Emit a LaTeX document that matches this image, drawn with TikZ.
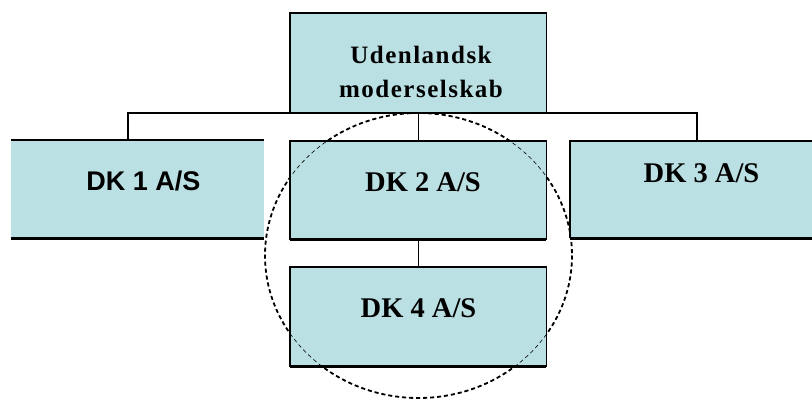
\documentclass[tikz,border=0pt]{standalone}
\usepackage{fontspec}
\setmainfont{Liberation Serif}
\newfontfamily\orgsans{Liberation Sans}
\definecolor{boxfill}{RGB}{186,224,227}
\begin{document}
\begin{tikzpicture}[x=1pt,y=-1pt,
  orgbox/.style={fill=boxfill, draw=none, inner sep=0pt, anchor=north west},
  edge/.style={draw=black, line width=1.1pt},
  shadowedge/.style={draw=black, line width=2.4pt},
  link/.style={draw=black, line width=1.3pt},
  serlabel/.style={inner sep=0pt, anchor=base, font=\bfseries\fontsize{28.5}{34}\selectfont},
  sanlabel/.style={inner sep=0pt, anchor=base, font=\orgsans\bfseries\fontsize{27}{32}\selectfont},
  ring/.style={draw=black, dash pattern=on 4pt off 3pt}]
\useasboundingbox (0,0) rectangle (812,402);
\fill[white] (0,0) rectangle (812,402);

% dashed ring, heavy part (shows outside the boxes)
\coordinate (ringc) at (418.5,255.5);
\draw[ring, line width=1.8pt] (ringc) ellipse [x radius=153.5, y radius=142.5];

% boxes
\node[orgbox, minimum width=256pt, minimum height=99pt] (top) at (290,13) {};
\node[orgbox, minimum width=253pt, minimum height=98pt] (dk1) at (11,140) {};
\node[orgbox, minimum width=256pt, minimum height=98pt] (dk2) at (290,141) {};
\node[orgbox, minimum width=250pt, minimum height=97pt] (dk3) at (570,141) {};
\node[orgbox, minimum width=256pt, minimum height=99pt] (dk4) at (290,267) {};

% box outlines
\draw[edge] (top.south west) rectangle (top.north east);
\draw[edge] (dk1.north west) -- (dk1.north east);
\draw[shadowedge] (dk1.south west) -- (dk1.south east);
\draw[edge] (dk2.south west) rectangle (dk2.north east);
\draw[shadowedge] (dk2.south west) -- (dk2.south east);
\draw[edge] (dk3.south west) -- (dk3.north west) -- (dk3.north east);
\draw[shadowedge] (dk3.south west) -- (dk3.south east);
\draw[edge] (dk4.south west) rectangle (dk4.north east);
\draw[shadowedge] (dk4.south west) -- (dk4.south east);

% connectors
\coordinate (bus1) at (128,113);
\coordinate (bus3) at (697,113);
\draw[link] (dk1.north -| bus1) -- (bus1) -- (bus3) -- (dk3.north -| bus3);
\draw[link] (top.south) -- (dk2.north);
\draw[link] (dk2.south) -- (dk4.north);

% labels
\node[inner sep=0pt, align=center, font=\bfseries\fontsize{25}{34}\selectfont\addfontfeatures{LetterSpace=6}] (toplabel) at (421,72) {Udenlandsk\\moderselskab};
\node[sanlabel] (dk1label) at (143.5,190) {DK 1 A/S};
\node[serlabel] (dk2label) at (423,191) {DK 2 A/S};
\node[serlabel] (dk3label) at (701.5,182) {DK 3 A/S};
\node[serlabel] (dk4label) at (418.5,317) {DK 4 A/S};

% dashed ring, light part (shows across the boxes)
\draw[ring, line width=0.6pt] (ringc) ellipse [x radius=153.5, y radius=142.5];
\end{tikzpicture}
\end{document}
